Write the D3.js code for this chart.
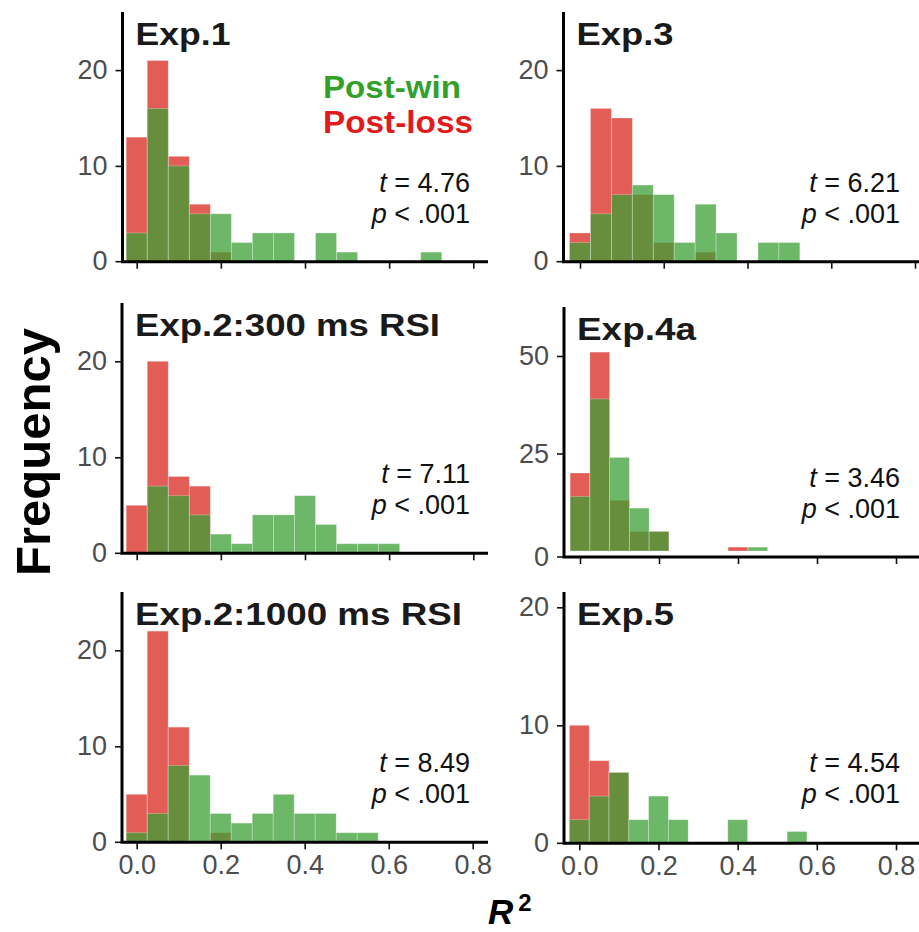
<!DOCTYPE html>
<html>
<head>
<meta charset="utf-8">
<script src="https://cdn.jsdelivr.net/npm/d3@7"></script>
<style>
  body { margin: 0; background: #fff; }
  svg { display: block; font-family: "Liberation Sans", Arial, sans-serif; }
</style>
</head>
<body>
<div id="chart"></div>
<script>
// Histograms of R^2, post-win vs post-loss, six experiments
// bins are 0.05 wide and centred on 0, 0.05, 0.10 ...
var binWidth = 0.05;

var panelTitles = ["Exp.1", "Exp.3", "Exp.2:300 ms RSI", "Exp.4a", "Exp.2:1000 ms RSI", "Exp.5"];
var tValues = ["4.76", "6.21", "7.11", "3.46", "8.49", "4.54"];
var xTickValues = [0, 0.2, 0.4, 0.6, 0.8];

// counts per bin (index 0 = bin centred on 0.00)
var exp1Win  = [3, 16, 10, 5, 5, 2, 3, 3, 0, 3, 1, 0, 0, 0, 1];
var exp1Loss = [13, 21, 11, 6, 1];
var exp3Win  = [2, 5, 7, 8, 7, 2, 6, 3, 0, 2, 2];
var exp3Loss = [3, 16, 15, 7, 2, 0, 1];
var exp2aWin  = [0, 7, 6, 4, 2, 1, 4, 4, 6, 3, 1, 1, 1];
var exp2aLoss = [5, 20, 8, 7];
var exp4aWin  = [14, 39, 24, 11, 5, 0, 0, 0, 0, 1];
var exp4aLoss = [20, 51, 13, 5, 5, 0, 0, 0, 1];
var exp2bWin  = [1, 3, 8, 7, 3, 2, 3, 5, 3, 3, 1, 1];
var exp2bLoss = [5, 22, 12, 0, 1];
var exp5Win  = [2, 4, 6, 2, 4, 2, 0, 0, 2, 0, 0, 1];
var exp5Loss = [10, 7, 6];

var yTickSets = [[0, 10, 20], [0, 10, 20], [0, 10, 20], [0, 25, 50], [0, 10, 20], [0, 10, 20]];
var winSets  = [exp1Win, exp3Win, exp2aWin, exp4aWin, exp2bWin, exp5Win];
var lossSets = [exp1Loss, exp3Loss, exp2aLoss, exp4aLoss, exp2bLoss, exp5Loss];

// where each panel sits on the page
var layout = [
  {ax: 122.5, top: 12,  axisY: 261.7, x0: 136.7, x8: 473.3, yZero: 261.7, unit: 9.58, right: 488, tx: 470, labels: false},
  {ax: 563.5, top: 12,  axisY: 261.7, x0: 580,   x8: 915,   yZero: 261.7, unit: 9.58, right: 919, tx: 900, labels: false},
  {ax: 122,   top: 303, axisY: 553.3, x0: 136.7, x8: 473.3, yZero: 553.3, unit: 9.6,  right: 488, tx: 470, labels: false},
  {ax: 564,   top: 307, axisY: 557,   x0: 580,   x8: 896,   yZero: 551,   unit: 3.9,  right: 919, tx: 900, labels: false},
  {ax: 122,   top: 592, axisY: 842.3, x0: 136.7, x8: 472.7, yZero: 842.3, unit: 9.6,  right: 488, tx: 470, labels: true},
  {ax: 564,   top: 592, axisY: 843.3, x0: 579.3, x8: 896,   yZero: 843.3, unit: 11.8, right: 919, tx: 900, labels: true}
];
var titleWidths = [95, 97, 305, 119, 327, 97];

var lossColor = "#e15d56";
var winColor = "#3c9f35";

var svgWidth = 919;
var svgHeight = 932;

var svg = d3.select("#chart")
  .append("svg")
  .attr("width", svgWidth)
  .attr("height", svgHeight);

layout.forEach(function(p, i) {
  var g = svg.append("g");

  var x = d3.scaleLinear().domain([0, 0.8]).range([p.x0, p.x8]);
  var y = d3.scaleLinear().domain([0, 10]).range([p.yZero, p.yZero - 10 * p.unit]);

  // loss bars first, win bars on top (semi transparent)
  function drawBars(counts, fill, opacity) {
    var data = counts.map(function(c, k) { return {mid: k * binWidth, n: c}; })
      .filter(function(d) { return d.n > 0; });
    g.selectAll(null)
      .data(data)
      .enter()
      .append("rect")
      .attr("x", d => x(d.mid - binWidth / 2))
      .attr("width", x(binWidth) - x(0))
      .attr("y", d => y(d.n))
      .attr("height", d => y(0) - y(d.n))
      .attr("fill", fill)
      .attr("fill-opacity", opacity)
      .attr("stroke", "#ffffff")
      .attr("stroke-opacity", 0.35)
      .attr("stroke-width", 0.8);
  }
  drawBars(lossSets[i], lossColor, 1);
  drawBars(winSets[i], winColor, 0.75);

  // y axis ticks
  var yAxis = g.append("g")
    .attr("transform", `translate(${p.ax},0)`)
    .call(d3.axisLeft(y).tickValues(yTickSets[i]).tickSize(7).tickPadding(8));
  yAxis.select(".domain").remove();
  // tick for 0 sits on the axis line (Exp.4a bars float a little above it)
  yAxis.selectAll(".tick").filter(d => d === 0)
    .attr("transform", `translate(0,${p.axisY})`);

  // x axis ticks
  var xAxis = g.append("g")
    .attr("transform", `translate(0,${p.axisY})`)
    .call(d3.axisBottom(x).tickValues(xTickValues).tickSize(7).tickPadding(6)
      .tickFormat(p.labels ? d3.format(".1f") : ""));
  xAxis.select(".domain").remove();

  g.selectAll(".tick line").attr("stroke", "#111").attr("stroke-width", 1.6);
  g.selectAll(".tick text")
    .attr("font-size", 27)
    .attr("font-family", "'Liberation Sans', Arial, sans-serif")
    .attr("fill", "#4d4d4d");

  // axis lines
  g.append("path")
    .attr("d", `M${p.ax},${p.top}V${p.axisY}H${p.right}`)
    .attr("fill", "none")
    .attr("stroke", "#000")
    .attr("stroke-width", 3);

  // panel title
  g.append("text")
    .attr("x", p.ax + 13)
    .attr("y", p.top + 33)
    .attr("font-size", 32)
    .attr("font-weight", "bold")
    .attr("fill", "#1a1a1a")
    .attr("textLength", titleWidths[i])
    .attr("lengthAdjust", "spacingAndGlyphs")
    .text(panelTitles[i]);

  // t and p values
  var tText = g.append("text")
    .attr("x", p.tx)
    .attr("y", p.top + 180)
    .attr("text-anchor", "end")
    .attr("font-size", 27)
    .attr("fill", "#111");
  tText.append("tspan").attr("font-style", "italic").text("t");
  tText.append("tspan").text(" = " + tValues[i]);

  var pText = g.append("text")
    .attr("x", p.tx)
    .attr("y", p.top + 211)
    .attr("text-anchor", "end")
    .attr("font-size", 27)
    .attr("fill", "#111");
  pText.append("tspan").attr("font-style", "italic").text("p");
  pText.append("tspan").text(" < .001");
});

// legend (inside Exp.1)
svg.append("text")
  .attr("x", 323).attr("y", 98)
  .attr("font-size", 31).attr("font-weight", "bold")
  .attr("fill", "#34a02c")
  .attr("textLength", 138).attr("lengthAdjust", "spacingAndGlyphs")
  .text("Post-win");
svg.append("text")
  .attr("x", 323).attr("y", 133)
  .attr("font-size", 31).attr("font-weight", "bold")
  .attr("fill", "#e31a1c")
  .attr("textLength", 150).attr("lengthAdjust", "spacingAndGlyphs")
  .text("Post-loss");

// shared axis titles
svg.append("text")
  .attr("transform", "translate(50,452) rotate(-90)")
  .attr("text-anchor", "middle")
  .attr("font-size", 49)
  .attr("font-weight", "bold")
  .attr("fill", "#000")
  .text("Frequency");

var rLabel = svg.append("text")
  .attr("x", 488).attr("y", 924)
  .attr("font-weight", "bold")
  .attr("fill", "#000");
rLabel.append("tspan").attr("font-size", 35).attr("font-style", "italic").text("R");
rLabel.append("tspan").attr("font-size", 24).attr("dx", 5).attr("dy", -13).text("2");
</script>
</body>
</html>
